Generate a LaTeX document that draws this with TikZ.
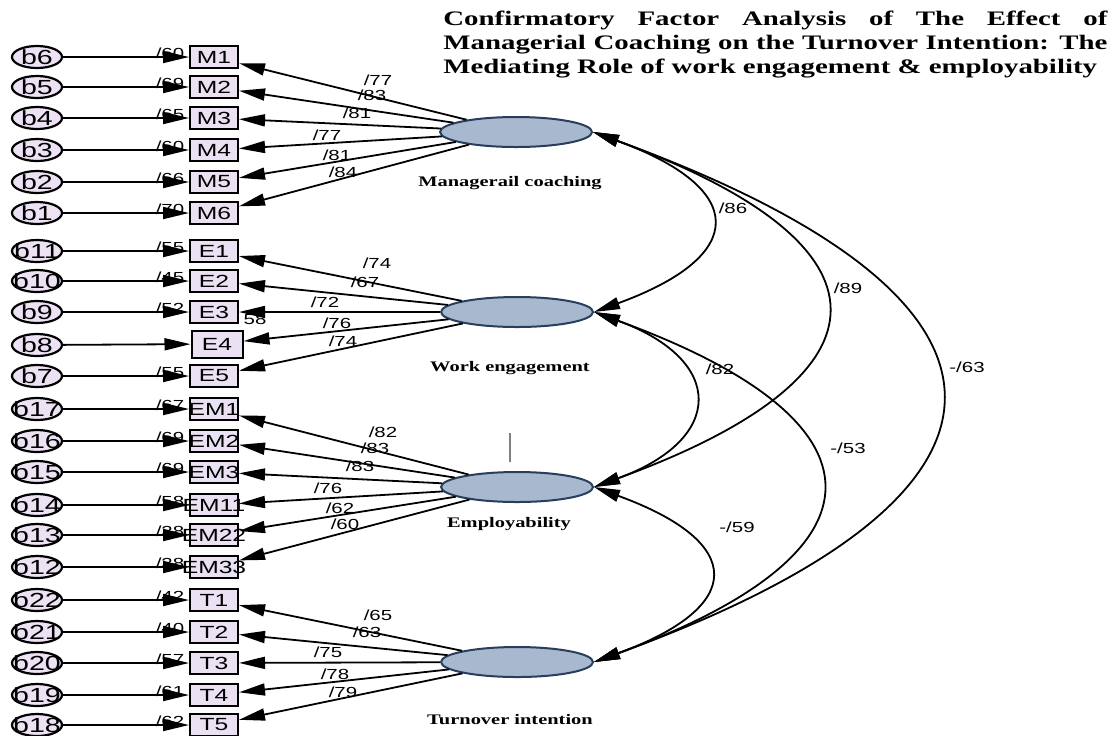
\documentclass[tikz,border=0pt]{standalone}
\usepackage{fontspec}
\usepackage{graphicx}
\usetikzlibrary{shapes.geometric,arrows.meta}

\newfontfamily\diagsans[FakeStretch=1.4]{Liberation Sans}
\newfontfamily\diagserif[FakeStretch=1.4]{Liberation Serif}

\definecolor{errfill}{RGB}{236,226,244}
\definecolor{indfill}{RGB}{234,226,243}
\definecolor{latfill}{RGB}{168,184,206}
\definecolor{latline}{RGB}{40,62,92}

\tikzset{
  errtext/.style={font=\diagsans\fontsize{10.2}{12}\selectfont},
  indtext/.style={font=\diagsans\fontsize{8.8}{10}\selectfont},
  errnode/.style={ellipse, draw, line width=1.1pt, fill=errfill, minimum width=25pt, minimum height=11pt, inner sep=0pt, label={[errtext]center:#1}},
  indnode/.style={rectangle, draw, line width=1pt, fill=indfill, minimum width=24pt, minimum height=11pt, inner sep=0pt, label={[indtext]center:#1}},
  latnode/.style={ellipse, draw=latline, line width=1pt, fill=latfill, minimum width=76pt, minimum height=15pt, inner sep=0pt},
  lattext/.style={font=\diagserif\bfseries\fontsize{7.3}{9}\selectfont},
  num/.style={font=\diagsans\fontsize{7.3}{9}\selectfont, inner sep=0pt},
  title/.style={font=\diagserif\bfseries\fontsize{10.3}{12}\selectfont, align=left, inner sep=0pt},
  errarr/.style={line width=0.9pt, -{Triangle[length=13pt,width=6pt]}},
  load/.style={line width=0.9pt, -{Triangle[length=13pt,width=6pt]}},
  cov/.style={line width=0.9pt, {Triangle[length=13pt,width=6pt]}-{Triangle[length=13pt,width=6pt]}},
}

\begin{document}
\begin{tikzpicture}[x=0.5pt, y=0.5pt]
    \useasboundingbox (0,0) rectangle (1117,-735);

    % Title
    \node[title, anchor=north west] (ttl) at (443,-11) {\makebox[332pt][s]{Confirmatory Factor Analysis of The Effect of}\\\makebox[332pt][s]{Managerial Coaching on the Turnover Intention: The}\\Mediating Role of work engagement \& employability};

    % Latent variables
    \node[latnode] (mc) at (516,-132) {};
    \node[latnode] (we) at (517,-312) {};
    \node[latnode] (emp) at (517,-487) {};
    \node[latnode] (ti) at (517,-662) {};
    \node[lattext] (mclab) at (510,-183) {Managerail coaching};
    \node[lattext] (welab) at (510,-368) {Work engagement};
    \node[lattext] (emplab) at (509,-524) {Employability};
    \node[lattext] (tilab) at (510,-720) {Turnover intention};

    % Managerial coaching items
    \foreach \k/\e/\y/\v in {1/6/57/60, 2/5/87/69, 3/4/118/65, 4/3/150/60, 5/2/182/66, 6/1/213/70} {
        \node[errnode=b\e] (b\e) at (37,-\y) {};
        \node[indnode=M\k] (m\k) at (214,-\y) {};
        \node[num] (r\e) at (170,-\y+4) {/\v};
        \draw[errarr] (b\e) -- (m\k);
    }

    % Work engagement items
    \foreach \k/\e/\y/\v in {1/11/251/55, 2/10/281/45, 3/9/312/52, 5/7/376/55} {
        \node[errnode=b\e] (b\e) at (37,-\y) {};
        \node[indnode=E\k] (e\k) at (214,-\y) {};
        \node[num] (r\e) at (170,-\y+4) {/\v};
        \draw[errarr] (b\e) -- (e\k);
    }
    \node[errnode=b8] (b8) at (37,-345) {};
    \node[indnode=E4, minimum width=25.5pt, minimum height=13.5pt] (e4) at (217,-344) {};
    \draw[errarr] (b8) -- (e4);
    \node[num] (r9b) at (255,-319) {58};

    % Employability items
    \foreach \k/\t/\e/\y/\v in {1/EM1/17/409/67, 2/EM2/16/441/69, 3/EM3/15/472/69, 4/EM11/14/505/58, 5/EM22/13/535/38, 6/EM33/12/567/38} {
        \node[errnode=b\e] (b\e) at (37,-\y) {};
        \node[indnode=\t] (em\k) at (214,-\y) {};
        \node[num] (r\e) at (170,-\y+4) {/\v};
        \draw[errarr] (b\e) -- (em\k);
    }

    % Turnover intention items
    \foreach \k/\e/\y/\v in {1/22/600/42, 2/21/632/40, 3/20/663/57, 4/19/695/61, 5/18/725/62} {
        \node[errnode=b\e] (b\e) at (37,-\y) {};
        \node[indnode=T\k] (t\k) at (214,-\y) {};
        \node[num] (r\e) at (170,-\y+4) {/\v};
        \draw[errarr] (b\e) -- (t\k);
    }

    % Loadings
    \foreach \k/\x/\y/\v in {1/378/80/77, 2/372/95/83, 3/357/113/81, 4/327/135/77, 5/337/155/81, 6/343/172/84} {
        \draw[load] (mc) -- (m\k);
        \node[num] (lm\k) at (\x,-\y) {/\v};
    }
    \foreach \k/\x/\y/\v in {1/377/263/74, 2/365/282/67, 3/325/302/72, 4/337/323/76, 5/343/341/74} {
        \draw[load] (we) -- (e\k);
        \node[num] (le\k) at (\x,-\y) {/\v};
    }
    \foreach \k/\x/\y/\v in {1/383/432/82, 2/375/448/83, 3/360/466/83, 4/328/488/76, 5/340/508/62, 6/345/524/60} {
        \draw[load] (emp) -- (em\k);
        \node[num] (lem\k) at (\x,-\y) {/\v};
    }
    \foreach \k/\x/\y/\v in {1/378/615/65, 2/367/632/63, 3/328/652/75, 4/335/674/78, 5/343/692/79} {
        \draw[load] (ti) -- (t\k);
        \node[num] (lt\k) at (\x,-\y) {/\v};
    }

    % Covariances
    \draw[cov] (mc.east) .. controls +(-20:165) and +(20:165) .. (we.east);
    \draw[cov] (mc.east) .. controls +(-20:328) and +(20:328) .. (emp.east);
    \draw[cov] (mc.east) .. controls +(-20:490) and +(20:490) .. (ti.east);
    \draw[cov] (we.east) .. controls +(-20:140) and +(20:140) .. (emp.east);
    \draw[cov] (we.east) .. controls +(-20:320) and +(20:320) .. (ti.east);
    \draw[cov] (emp.east) .. controls +(-20:162) and +(20:162) .. (ti.east);
    \node[num] (c1) at (733,-208) {/86};
    \node[num] (c2) at (848,-288) {/89};
    \node[num] (c3) at (967,-367) {-/63};
    \node[num] (c4) at (720,-369) {/82};
    \node[num] (c5) at (848,-448) {-/53};
    \node[num] (c6) at (737,-527) {-/59};

    \draw[gray, line width=1pt] (510,-433) -- (510,-462);
\end{tikzpicture}
\end{document}
